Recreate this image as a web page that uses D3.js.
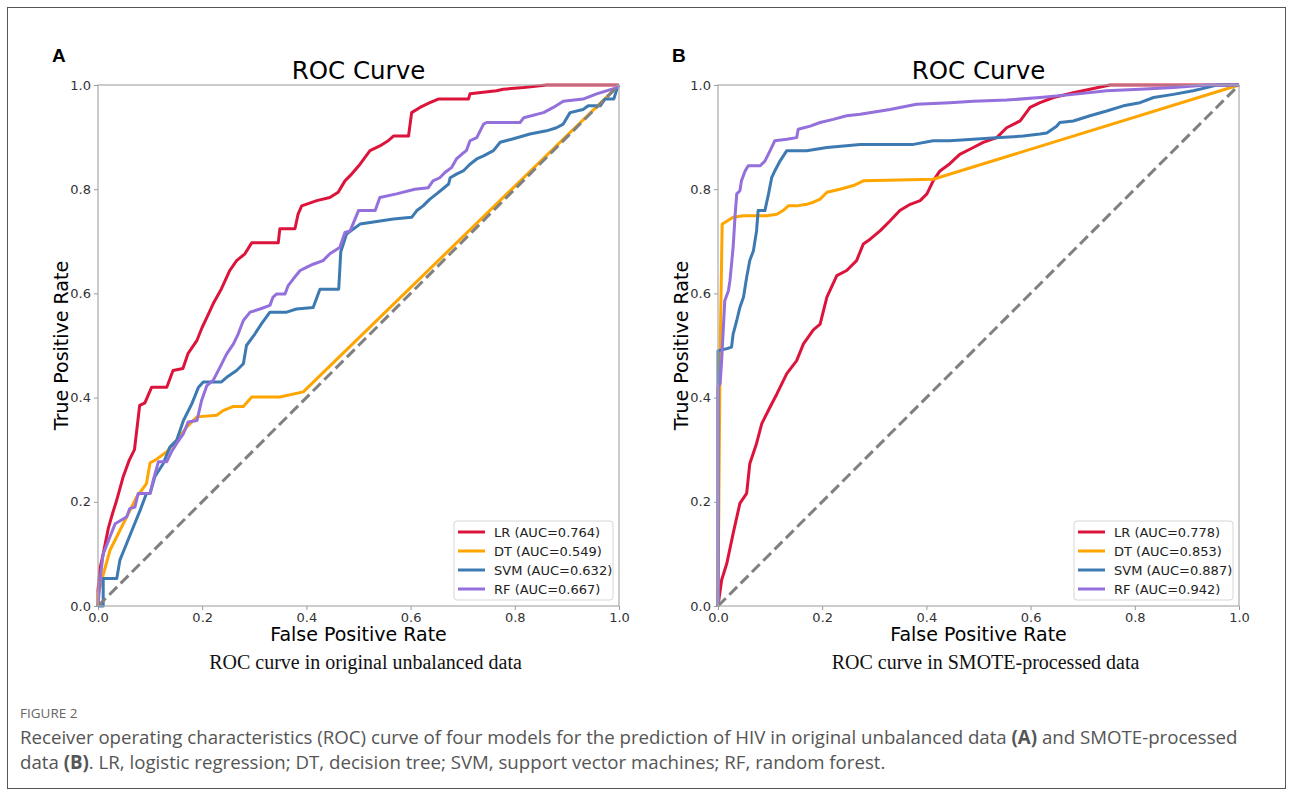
<!DOCTYPE html>
<html>
<head>
<meta charset="utf-8">
<script src="https://cdn.jsdelivr.net/npm/d3@7"></script>
<style>
  body { margin: 0; background: #fff; }
  svg { display: block; }
</style>
</head>
<body>
<svg width="1293" height="796"></svg>
<script>
const svg = d3.select('svg');

// model names and AUC labels
const models = ['LR', 'DT', 'SVM', 'RF'];
const aucA = ['0.764', '0.549', '0.632', '0.667'];
const aucB = ['0.778', '0.853', '0.887', '0.942'];
const ticks = [0, 0.2, 0.4, 0.6, 0.8, 1.0];

// panel A: original unbalanced data, [fpr, tpr]
const lrA = [[0,0],[0,0.03],[0.004,0.073],[0.01,0.1],[0.02,0.15],[0.028,0.178],[0.035,0.2],[0.048,0.247],[0.06,0.28],[0.07,0.3],[0.08,0.385],[0.09,0.39],[0.103,0.42],[0.132,0.42],[0.144,0.452],[0.163,0.456],[0.173,0.485],[0.19,0.51],[0.2,0.535],[0.209,0.554],[0.221,0.58],[0.237,0.609],[0.253,0.644],[0.266,0.663],[0.282,0.676],[0.295,0.697],[0.346,0.697],[0.349,0.724],[0.378,0.724],[0.384,0.752],[0.391,0.768],[0.42,0.778],[0.445,0.784],[0.461,0.794],[0.474,0.816],[0.484,0.826],[0.503,0.848],[0.522,0.874],[0.541,0.883],[0.557,0.893],[0.567,0.902],[0.596,0.902],[0.602,0.947],[0.618,0.957],[0.637,0.966],[0.653,0.973],[0.711,0.973],[0.714,0.983],[0.765,0.989],[0.778,0.992],[0.817,0.995],[0.861,1],[1,1]];
const dtA = [[0,0],[0,0.02],[0.01,0.06],[0.023,0.107],[0.036,0.133],[0.074,0.209],[0.093,0.235],[0.1,0.275],[0.11,0.28],[0.132,0.296],[0.151,0.318],[0.17,0.343],[0.19,0.363],[0.228,0.366],[0.24,0.375],[0.26,0.383],[0.279,0.383],[0.295,0.401],[0.349,0.401],[0.394,0.411],[1,1]];
const svmA = [[0,0],[0.01,0],[0.01,0.053],[0.036,0.053],[0.042,0.088],[0.055,0.12],[0.068,0.152],[0.081,0.184],[0.093,0.216],[0.1,0.216],[0.109,0.248],[0.125,0.273],[0.138,0.305],[0.151,0.318],[0.164,0.356],[0.18,0.388],[0.193,0.42],[0.202,0.43],[0.237,0.43],[0.247,0.439],[0.266,0.452],[0.279,0.465],[0.285,0.5],[0.301,0.522],[0.314,0.542],[0.33,0.564],[0.362,0.564],[0.381,0.57],[0.413,0.573],[0.426,0.608],[0.462,0.608],[0.466,0.68],[0.477,0.714],[0.503,0.733],[0.567,0.743],[0.602,0.746],[0.612,0.759],[0.624,0.768],[0.637,0.781],[0.65,0.791],[0.673,0.81],[0.676,0.822],[0.688,0.829],[0.701,0.835],[0.714,0.848],[0.727,0.858],[0.74,0.864],[0.759,0.874],[0.772,0.89],[0.794,0.896],[0.829,0.906],[0.861,0.912],[0.88,0.918],[0.893,0.925],[0.906,0.947],[0.931,0.953],[0.941,0.96],[0.964,0.96],[0.973,0.973],[0.99,0.973],[0.996,0.992],[1,1]];
const rfA = [[0,0],[0.005,0.06],[0.01,0.1],[0.023,0.133],[0.033,0.158],[0.045,0.165],[0.055,0.171],[0.061,0.187],[0.071,0.19],[0.077,0.216],[0.1,0.216],[0.106,0.241],[0.116,0.277],[0.132,0.277],[0.141,0.296],[0.151,0.312],[0.164,0.331],[0.173,0.353],[0.19,0.356],[0.199,0.395],[0.209,0.423],[0.221,0.433],[0.234,0.458],[0.247,0.484],[0.26,0.503],[0.269,0.522],[0.279,0.548],[0.292,0.564],[0.311,0.57],[0.33,0.577],[0.336,0.593],[0.343,0.599],[0.359,0.599],[0.365,0.615],[0.375,0.628],[0.388,0.644],[0.4,0.65],[0.413,0.656],[0.432,0.663],[0.445,0.676],[0.464,0.688],[0.474,0.717],[0.484,0.72],[0.5,0.759],[0.532,0.759],[0.541,0.784],[0.573,0.791],[0.608,0.8],[0.634,0.803],[0.643,0.816],[0.656,0.822],[0.666,0.832],[0.679,0.842],[0.688,0.858],[0.698,0.867],[0.707,0.874],[0.714,0.893],[0.727,0.899],[0.74,0.925],[0.746,0.928],[0.81,0.928],[0.817,0.937],[0.855,0.947],[0.874,0.957],[0.893,0.969],[0.931,0.973],[0.957,0.983],[0.996,0.995],[1,1]];

// panel B: SMOTE-processed data, [fpr, tpr]
const lrB = [[0,0],[0.007,0.05],[0.017,0.082],[0.029,0.139],[0.042,0.197],[0.055,0.216],[0.061,0.273],[0.074,0.312],[0.084,0.35],[0.1,0.382],[0.113,0.407],[0.132,0.446],[0.151,0.471],[0.164,0.503],[0.183,0.53],[0.196,0.541],[0.209,0.593],[0.228,0.634],[0.247,0.644],[0.266,0.663],[0.279,0.695],[0.292,0.704],[0.311,0.72],[0.33,0.739],[0.349,0.759],[0.369,0.771],[0.388,0.778],[0.401,0.791],[0.413,0.816],[0.426,0.835],[0.445,0.849],[0.464,0.867],[0.49,0.88],[0.509,0.89],[0.535,0.899],[0.554,0.918],[0.58,0.931],[0.599,0.957],[0.618,0.966],[0.644,0.976],[0.682,0.985],[0.714,0.992],[0.752,1],[1,1]];
const dtB = [[0,0],[0.004,0.48],[0.008,0.733],[0.013,0.736],[0.029,0.746],[0.049,0.749],[0.093,0.749],[0.113,0.752],[0.125,0.759],[0.135,0.768],[0.151,0.768],[0.17,0.771],[0.183,0.775],[0.196,0.781],[0.202,0.787],[0.209,0.794],[0.234,0.8],[0.26,0.807],[0.273,0.813],[0.279,0.816],[0.413,0.819],[1,1]];
const svmB = [[0,0],[0,0.49],[0.017,0.494],[0.026,0.497],[0.029,0.522],[0.036,0.548],[0.042,0.573],[0.049,0.593],[0.055,0.631],[0.061,0.663],[0.068,0.682],[0.074,0.72],[0.077,0.759],[0.09,0.759],[0.097,0.791],[0.103,0.822],[0.109,0.835],[0.119,0.854],[0.132,0.874],[0.17,0.874],[0.209,0.88],[0.273,0.886],[0.375,0.886],[0.413,0.893],[0.445,0.893],[0.49,0.896],[0.541,0.899],[0.586,0.902],[0.618,0.906],[0.631,0.908],[0.65,0.921],[0.656,0.928],[0.682,0.931],[0.714,0.941],[0.746,0.95],[0.778,0.96],[0.81,0.966],[0.836,0.976],[0.874,0.982],[0.912,0.989],[0.938,0.995],[0.957,1],[1,1]];
const rfB = [[0,0],[0,0.42],[0.004,0.427],[0.007,0.471],[0.01,0.529],[0.013,0.586],[0.02,0.605],[0.023,0.625],[0.029,0.688],[0.033,0.752],[0.036,0.791],[0.042,0.797],[0.045,0.816],[0.052,0.835],[0.058,0.845],[0.081,0.845],[0.09,0.854],[0.1,0.874],[0.109,0.893],[0.132,0.896],[0.151,0.899],[0.154,0.915],[0.177,0.921],[0.196,0.928],[0.221,0.934],[0.247,0.941],[0.273,0.944],[0.33,0.953],[0.381,0.963],[0.445,0.966],[0.49,0.969],[0.554,0.971],[0.618,0.976],[0.682,0.982],[0.746,0.989],[0.81,0.992],[0.874,0.995],[0.938,1],[1,1]];

const colors = ['#dc143c', '#ffa500', '#3d7ab2', '#9370db'];

// outer frame
svg.append('rect')
  .attr('x', 7.5).attr('y', 7.5)
  .attr('width', 1278).attr('height', 781)
  .attr('fill', 'none')
  .attr('stroke', '#555')
  .attr('stroke-width', 1);

function panel(left, letter, series, aucs, subtitle) {
  const top = 85, w = 521, h = 521;
  const x = d3.scaleLinear().domain([0, 1]).range([left, left + w]);
  const y = d3.scaleLinear().domain([0, 1]).range([top + h, top]);
  const g = svg.append('g');

  g.append('text')
    .attr('x', left - 46).attr('y', 62)
    .attr('font-family', 'Liberation Sans, Arial, sans-serif')
    .attr('font-weight', 'bold')
    .attr('font-size', 19)
    .text(letter);

  const font = 'DejaVu Sans, sans-serif';

  const xAxis = g.append('g')
    .attr('transform', `translate(0,${top + h})`)
    .call(d3.axisBottom(x).tickValues(ticks).tickFormat(d3.format('.1f')).tickSize(4).tickPadding(3));
  const yAxis = g.append('g')
    .attr('transform', `translate(${left},0)`)
    .call(d3.axisLeft(y).tickValues(ticks).tickFormat(d3.format('.1f')).tickSize(4).tickPadding(3));
  [xAxis, yAxis].forEach(a => {
    a.select('.domain').remove();
    a.selectAll('line').attr('stroke', '#999');
    a.selectAll('text').attr('font-family', font).attr('font-size', 13).attr('fill', '#333');
  });

  const line = d3.line().x(d => x(d[0])).y(d => y(d[1]));

  series.forEach((s, i) => {
    g.append('path')
      .datum(s)
      .attr('d', line)
      .attr('fill', 'none')
      .attr('stroke', colors[i])
      .attr('stroke-width', 3)
      .attr('stroke-linejoin', 'round');
  });

  g.append('path')
    .datum([[0, 0], [1, 1]])
    .attr('d', line)
    .attr('fill', 'none')
    .attr('stroke', '#808080')
    .attr('stroke-width', 3)
    .attr('stroke-dasharray', '11,5');

  // spines
  g.append('rect')
    .attr('x', left).attr('y', top)
    .attr('width', w).attr('height', h)
    .attr('fill', 'none')
    .attr('stroke', '#aaa')
    .attr('stroke-width', 1.2);

  g.append('text')
    .attr('x', left + w / 2).attr('y', 79)
    .attr('text-anchor', 'middle')
    .attr('font-family', font)
    .attr('font-size', 24.5)
    .text('ROC Curve');

  g.append('text')
    .attr('x', left + w / 2).attr('y', 641)
    .attr('text-anchor', 'middle')
    .attr('font-family', font)
    .attr('font-size', 19)
    .text('False Positive Rate');

  g.append('text')
    .attr('transform', `translate(${left - 30},${top + h / 2}) rotate(-90)`)
    .attr('text-anchor', 'middle')
    .attr('font-family', font)
    .attr('font-size', 19)
    .text('True Positive Rate');

  g.append('text')
    .attr('x', left + w / 2 + 7).attr('y', 669)
    .attr('text-anchor', 'middle')
    .attr('font-family', 'Liberation Serif, Times New Roman, serif')
    .attr('font-size', 20)
    .attr('fill', '#111')
    .text(subtitle);

  // legend
  const lx = left + w - 165, ly = top + h - 85;
  g.append('rect')
    .attr('x', lx).attr('y', ly)
    .attr('width', 159).attr('height', 79)
    .attr('rx', 3)
    .attr('fill', 'rgba(255,255,255,0.85)')
    .attr('stroke', '#d6d6d6');
  models.forEach((m, i) => {
    const yy = ly + 11 + i * 19;
    g.append('line')
      .attr('x1', lx + 4).attr('x2', lx + 31)
      .attr('y1', yy).attr('y2', yy)
      .attr('stroke', colors[i])
      .attr('stroke-width', 3);
    g.append('text')
      .attr('x', lx + 40).attr('y', yy + 4.5)
      .attr('font-family', font)
      .attr('font-size', 13)
      .attr('fill', '#222')
      .text(`${m} (AUC=${aucs[i]})`);
  });
}

panel(98, 'A', [lrA, dtA, svmA, rfA], aucA, 'ROC curve in original unbalanced data');
panel(718, 'B', [lrB, dtB, svmB, rfB], aucB, 'ROC curve in SMOTE-processed data');

// caption
const capFont = 'Open Sans, Noto Sans, sans-serif';
svg.append('text')
  .attr('x', 20).attr('y', 718)
  .attr('font-family', capFont)
  .attr('font-size', 13.5)
  .attr('fill', '#666')
  .text('FIGURE 2');

const cap1 = svg.append('text')
  .attr('x', 20).attr('y', 744)
  .attr('font-family', capFont)
  .attr('font-size', 16)
  .attr('fill', '#555');
cap1.append('tspan').text('Receiver operating characteristics (ROC) curve of four models for the prediction of HIV in original unbalanced data ');
cap1.append('tspan').attr('font-weight', 'bold').text('(A)');
cap1.append('tspan').text(' and SMOTE-processed');

const cap2 = svg.append('text')
  .attr('x', 20).attr('y', 769)
  .attr('font-family', capFont)
  .attr('font-size', 16)
  .attr('fill', '#555');
cap2.append('tspan').text('data ');
cap2.append('tspan').attr('font-weight', 'bold').text('(B)');
cap2.append('tspan').text('. LR, logistic regression; DT, decision tree; SVM, support vector machines; RF, random forest.');

// fit the first caption line to the width used in the figure
const capSize = 16 * 1218 / cap1.node().getComputedTextLength();
cap1.attr('font-size', capSize);
cap2.attr('font-size', capSize);
</script>
</body>
</html>
